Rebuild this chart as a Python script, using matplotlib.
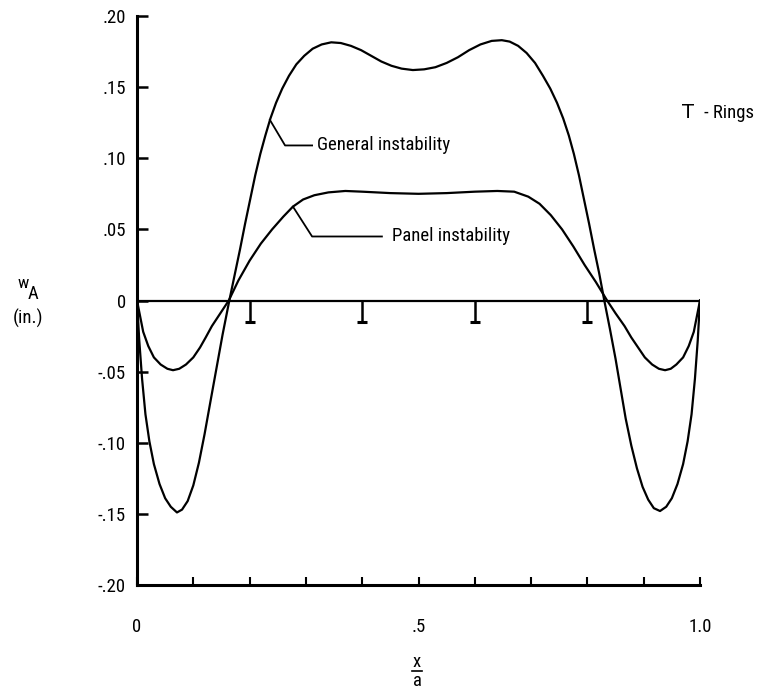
import numpy as np
import matplotlib
matplotlib.use("Agg")
import matplotlib.pyplot as plt

plt.rcParams['font.family'] = ['Roboto Condensed', 'DejaVu Sans']

# deflection w_A along the bay, general instability mode
gen_x = [0.000, 0.004, 0.009, 0.015, 0.022, 0.030, 0.040, 0.050, 0.060, 0.071,
         0.080, 0.090, 0.100, 0.110, 0.120, 0.130, 0.141, 0.152, 0.164, 0.174,
         0.183, 0.192, 0.201, 0.210, 0.219, 0.228, 0.237, 0.247, 0.258, 0.270,
         0.283, 0.297, 0.312, 0.328, 0.345, 0.362, 0.380, 0.398, 0.416, 0.434,
         0.452, 0.470, 0.490, 0.510, 0.530, 0.550, 0.570, 0.590, 0.610, 0.630,
         0.648, 0.662, 0.677, 0.692, 0.707, 0.721, 0.734, 0.746, 0.757, 0.767,
         0.776, 0.785, 0.794, 0.803, 0.812, 0.821, 0.830, 0.840, 0.850, 0.859,
         0.868, 0.878, 0.888, 0.898, 0.908, 0.918, 0.929, 0.940, 0.950, 0.960,
         0.970, 0.978, 0.985, 0.991, 0.996, 1.000]
gen_w = [0.000, -0.028, -0.055, -0.080, -0.099, -0.115, -0.129, -0.139, -0.145, -0.149,
         -0.147, -0.141, -0.130, -0.114, -0.094, -0.072, -0.048, -0.024, 0.000, 0.019,
         0.036, 0.054, 0.071, 0.088, 0.103, 0.116, 0.128, 0.139, 0.149, 0.158,
         0.166, 0.172, 0.177, 0.180, 0.1815, 0.181, 0.179, 0.176, 0.172, 0.168,
         0.165, 0.163, 0.162, 0.1625, 0.164, 0.167, 0.171, 0.176, 0.180, 0.1825,
         0.183, 0.182, 0.179, 0.174, 0.167, 0.158, 0.149, 0.139, 0.128, 0.116,
         0.103, 0.088, 0.071, 0.054, 0.036, 0.019, 0.000, -0.020, -0.041, -0.062,
         -0.083, -0.102, -0.118, -0.131, -0.140, -0.146, -0.148, -0.145, -0.139, -0.129,
         -0.115, -0.099, -0.080, -0.055, -0.028, 0.000]

# panel instability mode
pan_x = [0.000, 0.005, 0.011, 0.020, 0.030, 0.042, 0.054, 0.064, 0.075, 0.087,
         0.100, 0.112, 0.122, 0.133, 0.148, 0.163, 0.180, 0.200, 0.220, 0.240,
         0.260, 0.277, 0.295, 0.315, 0.340, 0.370, 0.400, 0.450, 0.500, 0.550,
         0.600, 0.640, 0.670, 0.695, 0.715, 0.735, 0.755, 0.775, 0.795, 0.815,
         0.835, 0.850, 0.866, 0.878, 0.890, 0.902, 0.915, 0.927, 0.938, 0.948,
         0.958, 0.970, 0.980, 0.989, 0.995, 1.000]
pan_w = [0.000, -0.010, -0.022, -0.032, -0.040, -0.045, -0.048, -0.049, -0.048, -0.045,
         -0.040, -0.033, -0.026, -0.018, -0.009, 0.000, 0.014, 0.028, 0.040, 0.050,
         0.059, 0.066, 0.071, 0.074, 0.076, 0.077, 0.0765, 0.0755, 0.075, 0.0755,
         0.0765, 0.077, 0.0765, 0.073, 0.068, 0.060, 0.050, 0.038, 0.025, 0.013,
         0.000, -0.009, -0.018, -0.026, -0.033, -0.040, -0.045, -0.048, -0.049, -0.048,
         -0.045, -0.040, -0.032, -0.022, -0.010, 0.000]

# ring stations and T-section depth
ring_x = [0.2, 0.4, 0.6, 0.8]
ring_depth = 0.015
ring_flange = 0.009

x_ticks = [0.0, 0.1, 0.2, 0.3, 0.4, 0.5, 0.6, 0.7, 0.8, 0.9, 1.0]
x_labels = ['0', '', '', '', '', '.5', '', '', '', '', '1.0']
y_ticks = [0.20, 0.15, 0.10, 0.05, 0.0, -0.05, -0.10, -0.15, -0.20]
y_labels = ['.20', '.15', '.10', '.05', '0', '-.05', '-.10', '-.15', '-.20']

W, H = 760, 689
fs = 13.5
fig = plt.figure(figsize=(W / 100, H / 100), dpi=100)
ax = fig.add_axes([137 / W, 1 - 585 / H, 563 / W, 569 / H])

lw = 1.6
ax.plot(gen_x, gen_w, color='black', lw=lw, solid_joinstyle='round')
ax.plot(pan_x, pan_w, color='black', lw=lw, solid_joinstyle='round')
ax.plot([0, 1], [0, 0], color='black', lw=lw)

# T rings hanging from the shell line
for rx in ring_x:
    ax.plot([rx, rx], [0, -ring_depth], color='black', lw=1.8)
    ax.plot([rx - ring_flange, rx + ring_flange], [-ring_depth, -ring_depth],
            color='black', lw=2.2, solid_capstyle='butt')

# leader lines
ax.plot([0.236, 0.263, 0.311], [0.127, 0.109, 0.109], color='black', lw=1.3)
ax.text(0.320, 0.109, 'General instability', fontsize=fs, va='center', ha='left')
ax.plot([0.277, 0.311, 0.435], [0.066, 0.045, 0.045], color='black', lw=1.3)
ax.text(0.453, 0.045, 'Panel instability', fontsize=fs, va='center', ha='left')

ax.text(0.968, 0.132, 'T', fontsize=14, va='center', ha='left',
        family='DejaVu Sans', clip_on=False)
ax.text(1.007, 0.132, '- Rings', fontsize=fs, va='center', ha='left', clip_on=False)

ax.set_xlim(0, 1.0)
ax.set_ylim(-0.20, 0.20)
ax.set_xticks(x_ticks)
ax.set_xticklabels(x_labels, fontsize=fs)
ax.set_yticks(y_ticks)
ax.set_yticklabels(y_labels, fontsize=fs)
ax.tick_params(axis='x', direction='in', length=6, width=1.5, pad=24)
ax.tick_params(axis='y', direction='in', length=8, width=1.8, pad=8)

for s in ['top', 'right']:
    ax.spines[s].set_visible(False)
for s in ['left', 'bottom']:
    ax.spines[s].set_linewidth(2.2)

# axis titles
fig.text(23 / W, 1 - 283 / H, 'w', fontsize=12.5, ha='center', va='center')
fig.text(33 / W, 1 - 294 / H, 'A', fontsize=fs, ha='center', va='center')
fig.text(28 / W, 1 - 318 / H, '(in.)', fontsize=fs, ha='center', va='center')

fig.text(417 / W, 1 - 662 / H, 'x', fontsize=fs, ha='center', va='center')
fig.add_artist(plt.Line2D([412 / W, 422 / W], [1 - 671 / H, 1 - 671 / H],
                          color='black', lw=1.2))
fig.text(417 / W, 1 - 681 / H, 'a', fontsize=fs, ha='center', va='center')

fig.savefig('out.png', dpi=100)
